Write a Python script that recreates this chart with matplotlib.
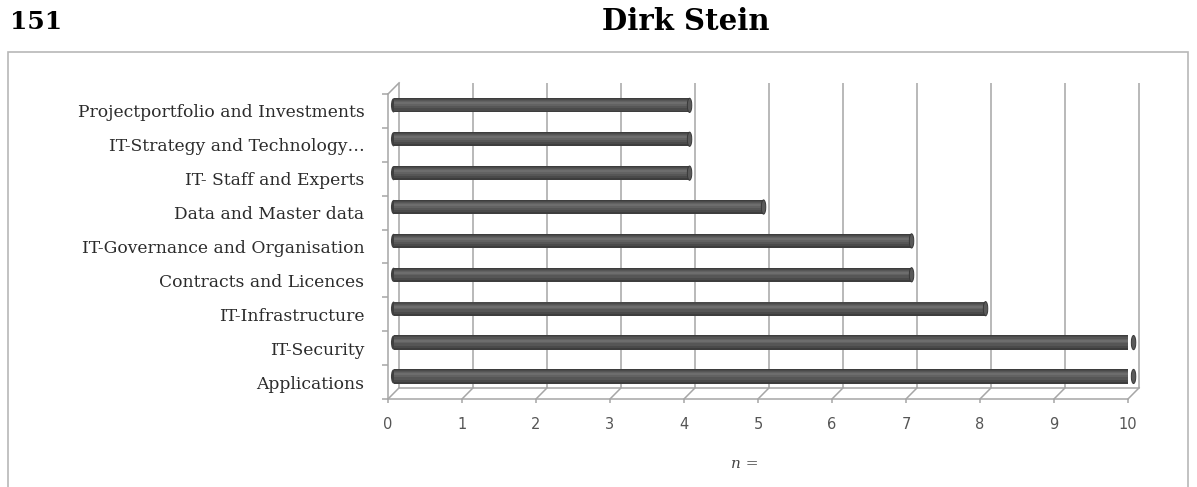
import numpy as np
import matplotlib
matplotlib.use("Agg")
import matplotlib.pyplot as plt
from matplotlib.patches import Ellipse, Rectangle

# data, bottom to top
categories = [
    "Applications",
    "IT-Security",
    "IT-Infrastructure",
    "Contracts and Licences",
    "IT-Governance and Organisation",
    "Data and Master data",
    "IT- Staff and Experts",
    "IT-Strategy and Technology\u2026",
    "Projectportfolio and Investments",
]
counts = [10, 10, 8, 7, 7, 5, 4, 4, 4]
x_ticks = list(range(0, 11))

# fake 3d depth (back wall shift in data units)
DX, DY = 0.15, 0.33
GRID = "#a6a6a6"

fig = plt.figure(figsize=(11.97, 4.87), dpi=100)

# header
fig.text(10 / 1197, 1 - 22 / 487, "151", fontsize=18, fontweight="bold",
         family="DejaVu Serif", va="center", ha="left")
fig.text(686 / 1197, 1 - 22 / 487, "Dirk Stein", fontsize=21, fontweight="bold",
         family="DejaVu Serif", va="center", ha="center")

# frame around the chart
fig.patches.append(Rectangle((8 / 1197, -0.01), 1180 / 1197, 1 - 52 / 487 + 0.01,
                             transform=fig.transFigure, fill=False,
                             edgecolor="#b8b8b8", lw=1.2))

left, right = 388 / 1197, 1128 / 1197
bottom, top = (487 - 399) / 487, (487 - 94) / 487
ax = fig.add_axes([left, bottom, right - left, top - bottom])
ax.set_xlim(0, 10)
ax.set_ylim(-0.5, len(categories) - 0.5)
ax.set_facecolor("none")

ypos = np.arange(len(categories))
ytop = len(categories) - 0.5

# back wall gridlines + floor
ax.vlines(np.array(x_ticks) + DX, -0.5 + DY, ytop + DY, color=GRID, lw=1.1,
          clip_on=False, zorder=0)
ax.plot([DX, 10 + DX], [-0.5 + DY, -0.5 + DY], color=GRID, lw=1.1, clip_on=False, zorder=0)
for t in x_ticks:
    ax.plot([t, t + DX], [-0.5, -0.5 + DY], color=GRID, lw=1.1, clip_on=False, zorder=0)
ax.plot([0, DX], [ytop, ytop + DY], color=GRID, lw=1.1, clip_on=False, zorder=0)

# cylinder-ish bars in the middle plane, shaded with stacked bands
mx, my = DX / 2, DY / 2
bh = 0.42
shades = [("#3d3d3d", bh, 0.0), ("#4a4a4a", 0.34, 0.015), ("#565656", 0.24, 0.03),
          ("#626262", 0.14, 0.05), ("#6d6d6d", 0.06, 0.06)]
for k, (col, h, off) in enumerate(shades):
    ax.barh(ypos + my + off, counts, left=mx, height=h, color=col, lw=0, zorder=3 + k)
for y, v in zip(ypos, counts):
    ax.add_patch(Ellipse((mx, y + my), 0.07, bh, facecolor="#404040",
                         lw=0, zorder=2, clip_on=False))
    ax.add_patch(Ellipse((v + mx, y + my), 0.06, bh, facecolor="#5a5a5a",
                         edgecolor="#383838", lw=0.7, zorder=9, clip_on=False))

# axes styling
for s in ["top", "right"]:
    ax.spines[s].set_visible(False)
for s in ["left", "bottom"]:
    ax.spines[s].set_color(GRID)
    ax.spines[s].set_linewidth(1.1)

ax.set_yticks(ypos)
ax.set_yticklabels(categories, family="DejaVu Serif", fontsize=12.3, color="#2b2b2b")
ax.set_yticks(np.arange(-0.5, ytop + 0.01, 1), minor=True)
ax.tick_params(axis="y", which="major", length=0, pad=17)
ax.tick_params(axis="y", which="minor", length=4, color=GRID, width=1.1)

ax.set_xticks(x_ticks)
ax.set_xticklabels([str(t) for t in x_ticks], family="DejaVu Sans", fontsize=10.5,
                   color="#555555")
ax.tick_params(axis="x", length=3, color=GRID, width=1.1, pad=10)
ax.set_xlabel("n =", family="DejaVu Serif", style="italic", fontsize=11,
              color="#444444", labelpad=14)
ax.xaxis.set_label_coords(0.482, -0.19)

fig.savefig("out.png", dpi=100)
